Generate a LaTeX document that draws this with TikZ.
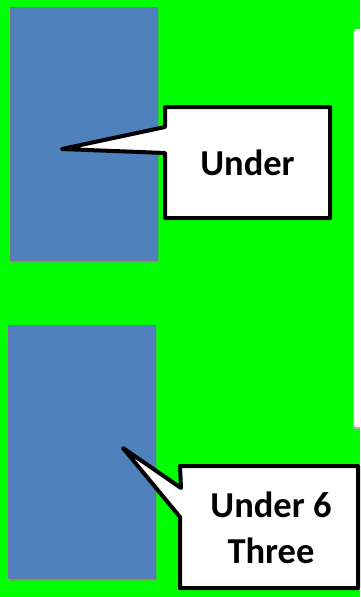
\documentclass[tikz,border=0pt]{standalone}
\usepackage{fontspec}
\setmainfont{Carlito}
\usetikzlibrary{shadows}
\definecolor{bggreen}{HTML}{00FF00}
\definecolor{boxblue}{HTML}{4F81BD}
\definecolor{boxedge}{HTML}{7A6E9E}
\begin{document}
\begin{tikzpicture}[x=1pt,y=-1pt,
  bluebox/.style={fill=boxblue,draw=boxedge,line width=0.8pt,
    drop shadow={opacity=0.35,shadow xshift=2pt,shadow yshift=-2.5pt}},
  callout/.style={fill=white,draw=black,line width=4pt,line join=round},
  calltext/.style={font=\bfseries\fontsize{36.5}{46}\selectfont,align=center,inner sep=0pt}]
\fill[bggreen] (0,0) rectangle (360,597);
\useasboundingbox (0,0) rectangle (360,597);
% white panel at right
\fill[black!30] (352.5,30.5) rectangle (360,428.5);
\fill[white,rounded corners=3pt] (354,29) rectangle (365,427);
% blue rectangles
\node[bluebox,minimum width=147pt,minimum height=253pt,inner sep=0pt] (r1) at (83.5,133.5) {};
\node[bluebox,minimum width=147pt,minimum height=253pt,inner sep=0pt] (r2) at (81.5,451.5) {};
% callout 1
\coordinate (t1) at (62,149);
\draw[callout] (165,107) -- (330,107) -- (330,218) -- (165,218) -- (165,153) -- (t1) -- (165,127) -- cycle;
\node[calltext] (c1) at (247.5,163) {Under};
% callout 2
\coordinate (t2) at (123,448);
\draw[callout] (180,466) -- (358,466) -- (358,588) -- (180,588) -- (180,517) -- (t2) -- (181,488) -- (180,466) -- cycle;
\node[calltext] (c2) at (271,528) {Under 6\\Three};
\end{tikzpicture}
\end{document}
